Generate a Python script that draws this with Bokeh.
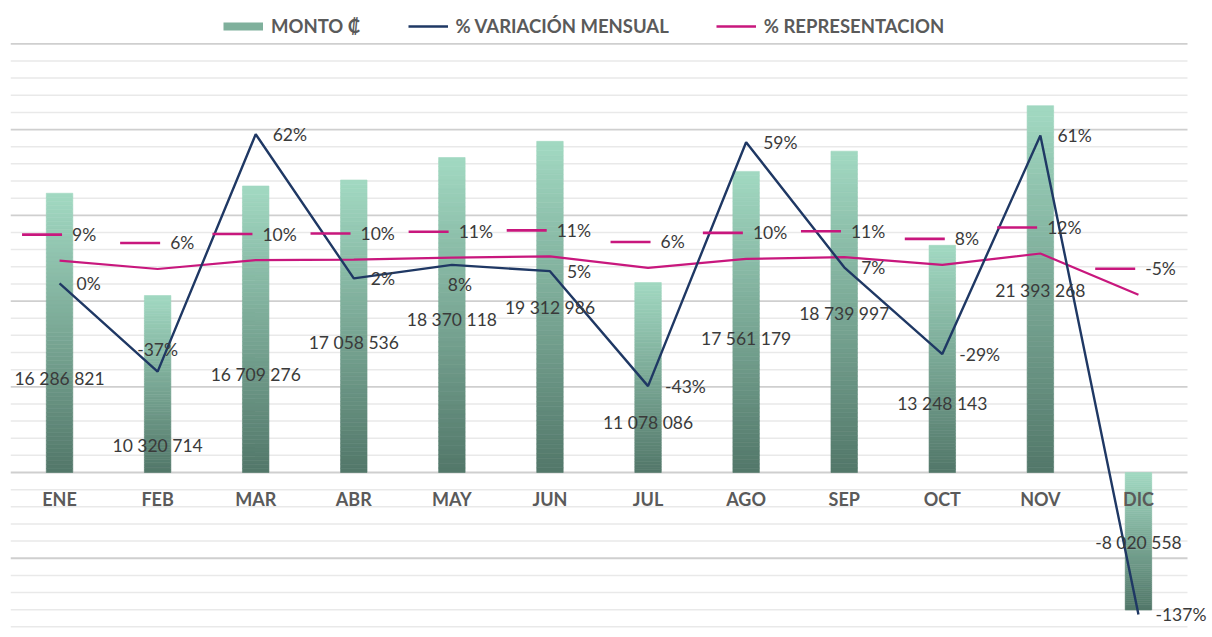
import numpy as np
from bokeh.plotting import figure
from bokeh.models import (Range1d, ColumnDataSource, LabelSet, Legend, LegendItem)
from bokeh.core.properties import value
from bokeh.embed import file_html
from bokeh.resources import INLINE

# ---------------- data ----------------
months = ["ENE", "FEB", "MAR", "ABR", "MAY", "JUN", "JUL", "AGO", "SEP", "OCT", "NOV", "DIC"]
monto = [16286821, 10320714, 16709276, 17058536, 18370118, 19312986,
         11078086, 17561179, 18739997, 13248143, 21393268, -8020558]
variacion = [0.0, -36.6, 61.9, 2.1, 7.7, 5.1, -42.6, 58.6, 6.7, -29.3, 61.4, -137.4]
representacion = [9.47, 6.00, 9.71, 9.91, 10.68, 11.22, 6.44, 10.21, 10.89, 7.70, 12.43, -4.66]
# where the amount labels sit (millions of colones)
monto_label_at = [5.5, 1.6, 5.7, 7.6, 8.9, 9.6, 2.9, 7.8, 9.3, 4.0, 10.6, -4.1]
variacion_label_side = ["right", "above", "right", "right", "below", "right",
                        "right", "right", "right", "right", "right", "right"]

legend_labels = ["MONTO \u20a1", "% VARIACI\u00d3N MENSUAL", "% REPRESENTACION"]

# ---------------- styling ----------------
FONT = "Lato"
C_TOP = np.array([0xa2, 0xd9, 0xc2])
C_BOT = np.array([0x52, 0x77, 0x69])
NAVY = "#1f3864"
MAGENTA = "#c8177d"
TXT = "#3a3a3a"
GRAY = "#5a5a5a"

W, H = 1212, 637
BL, BT, BB = 10, 8, 8
GRID_W = 1177                       # width of the gridded plot area
FH = H - BT - BB
FW = W - BL
Y0, Y1 = -9.155e6, 27.06e6
P0, P1 = -143.6, 114.1
px_per_m = FH / (Y1 - Y0)           # px per colon
px_per_pct = FH / (P1 - P0)         # px per percent
px_per_cat = GRID_W / 12.0
XEND = -0.5 + FW / px_per_cat

p = figure(width=W, height=H, output_backend="svg", toolbar_location=None,
           x_range=Range1d(-0.5, XEND), y_range=Range1d(Y0, Y1),
           x_axis_type=None, y_axis_type=None,
           min_border_left=BL, min_border_right=0, min_border_top=BT, min_border_bottom=BB)
p.outline_line_color = None
p.background_fill_color = "white"
p.border_fill_color = "white"
p.extra_y_ranges = {"pct": Range1d(P0, P1)}

# gridlines (major every 5 M, minor every 1 M) over the category area only
majors = [v * 1e6 for v in range(-5, 26, 5)]
minors = [v * 1e6 for v in range(-9, 26) if v % 5 != 0]
p.segment(x0=[-0.5] * len(minors), x1=[11.5] * len(minors), y0=minors, y1=minors,
          line_color="#e9e9e9", line_width=1.5)
p.segment(x0=[-0.5] * len(majors), x1=[11.5] * len(majors), y0=majors, y1=majors,
          line_color="#cfcfcf", line_width=1.8)

x = np.arange(len(months), dtype=float)

# ---------------- gradient bars ----------------
BW = 0.27
N = 70
L, R, T, B, C = [], [], [], [], []
for i, v in enumerate(monto):
    top, bot = (v, 0.0) if v >= 0 else (0.0, v)
    edges = np.linspace(top, bot, N + 1)
    for j in range(N):
        f = (j + 0.5) / N
        c = C_TOP + (C_BOT - C_TOP) * f
        L.append(x[i] - BW / 2); R.append(x[i] + BW / 2)
        T.append(edges[j]); B.append(edges[j + 1])
        C.append("#%02x%02x%02x" % tuple(int(round(k)) for k in c))
bars = ColumnDataSource(dict(left=L, right=R, top=T, bottom=B, color=C))
p.quad(left="left", right="right", top="top", bottom="bottom", fill_color="color",
       line_color="color", line_width=0.6, source=bars)

# ---------------- lines ----------------
p.line(x, representacion, y_range_name="pct", line_color=MAGENTA, line_width=2.2)
p.line(x, variacion, y_range_name="pct", line_color=NAVY, line_width=2.4)

# ---------------- data labels ----------------
def fmt_monto(v):
    return f"{v:,}".replace(",", " ")

src_m = ColumnDataSource(dict(x=x, y=[v * 1e6 for v in monto_label_at],
                              t=[fmt_monto(v) for v in monto]))
p.add_layout(LabelSet(x="x", y="y", text="t", source=src_m, text_align="center",
                      text_baseline="middle", text_font=value(FONT),
                      text_font_size="17.5px", text_color=TXT))

for side in ("right", "above", "below"):
    idx = [i for i, s in enumerate(variacion_label_side) if s == side]
    if side == "right":
        ys = [variacion[i] for i in idx]
        xo, align = 17, "left"
    elif side == "above":
        ys = [variacion[i] + 22 / px_per_pct for i in idx]
        xo, align = 0, "center"
    else:
        ys = [variacion[i] - 20 / px_per_pct for i in idx]
        xo, align = 8, "center"
    s = ColumnDataSource(dict(x=[x[i] for i in idx], y=ys,
                              t=[f"{variacion[i]:.0f}%" for i in idx]))
    p.add_layout(LabelSet(x="x", y="y", text="t", source=s, text_align=align,
                          x_offset=xo, text_baseline="middle", y_range_name="pct",
                          text_font=value(FONT), text_font_size="17.5px", text_color=TXT))

# representation labels with legend key
rep_txt = [f"{v:.0f}%" for v in representacion]
KEY, GAP = 40.0, 10.0
tw = [11.5 * len(t) + 2 for t in rep_txt]
start_px = [-(KEY + GAP + w) / 2 for w in tw]
key_y = [v + 26 / px_per_pct for v in representacion]
p.segment(x0=[x[i] + start_px[i] / px_per_cat for i in range(12)], y0=key_y,
          x1=[x[i] + (start_px[i] + KEY) / px_per_cat for i in range(12)], y1=key_y,
          y_range_name="pct", line_color=MAGENTA, line_width=2.6)
src_r = ColumnDataSource(dict(x=x, y=key_y, t=rep_txt,
                              xo=[s + KEY + GAP for s in start_px]))
p.add_layout(LabelSet(x="x", y="y", text="t", source=src_r, x_offset="xo",
                      text_align="left", text_baseline="middle", y_range_name="pct",
                      text_font=value(FONT), text_font_size="17.5px", text_color=TXT))

# category labels just below the zero line
src_c = ColumnDataSource(dict(x=x, y=[-26 / px_per_m] * 12, t=months))
p.add_layout(LabelSet(x="x", y="y", text="t", source=src_c, text_align="center",
                      text_baseline="middle", text_font=value(FONT),
                      text_font_size="18px", text_font_style="bold", text_color=GRAY))

# ---------------- legend ----------------
far = [-50.0, -49.0]
r1 = p.line(far, [0, 0], line_color="#7fb09c", line_width=8, line_cap="butt")
r2 = p.line(far, [0, 0], line_color=NAVY, line_width=2.5)
r3 = p.line(far, [0, 0], line_color=MAGENTA, line_width=2.5)
leg = Legend(items=[LegendItem(label=legend_labels[0], renderers=[r1]),
                    LegendItem(label=legend_labels[1], renderers=[r2]),
                    LegendItem(label=legend_labels[2], renderers=[r3])],
             orientation="horizontal", location=(213, FH - 29),
             glyph_width=40, glyph_height=20, label_height=20, label_standoff=8,
             spacing=47, padding=0, margin=0, border_line_color=None,
             background_fill_alpha=0, label_text_font=FONT,
             label_text_font_size="18.5px", label_text_font_style="bold",
             label_text_color=GRAY)
p.add_layout(leg)

open("out.html", "w").write(file_html(p, INLINE))
